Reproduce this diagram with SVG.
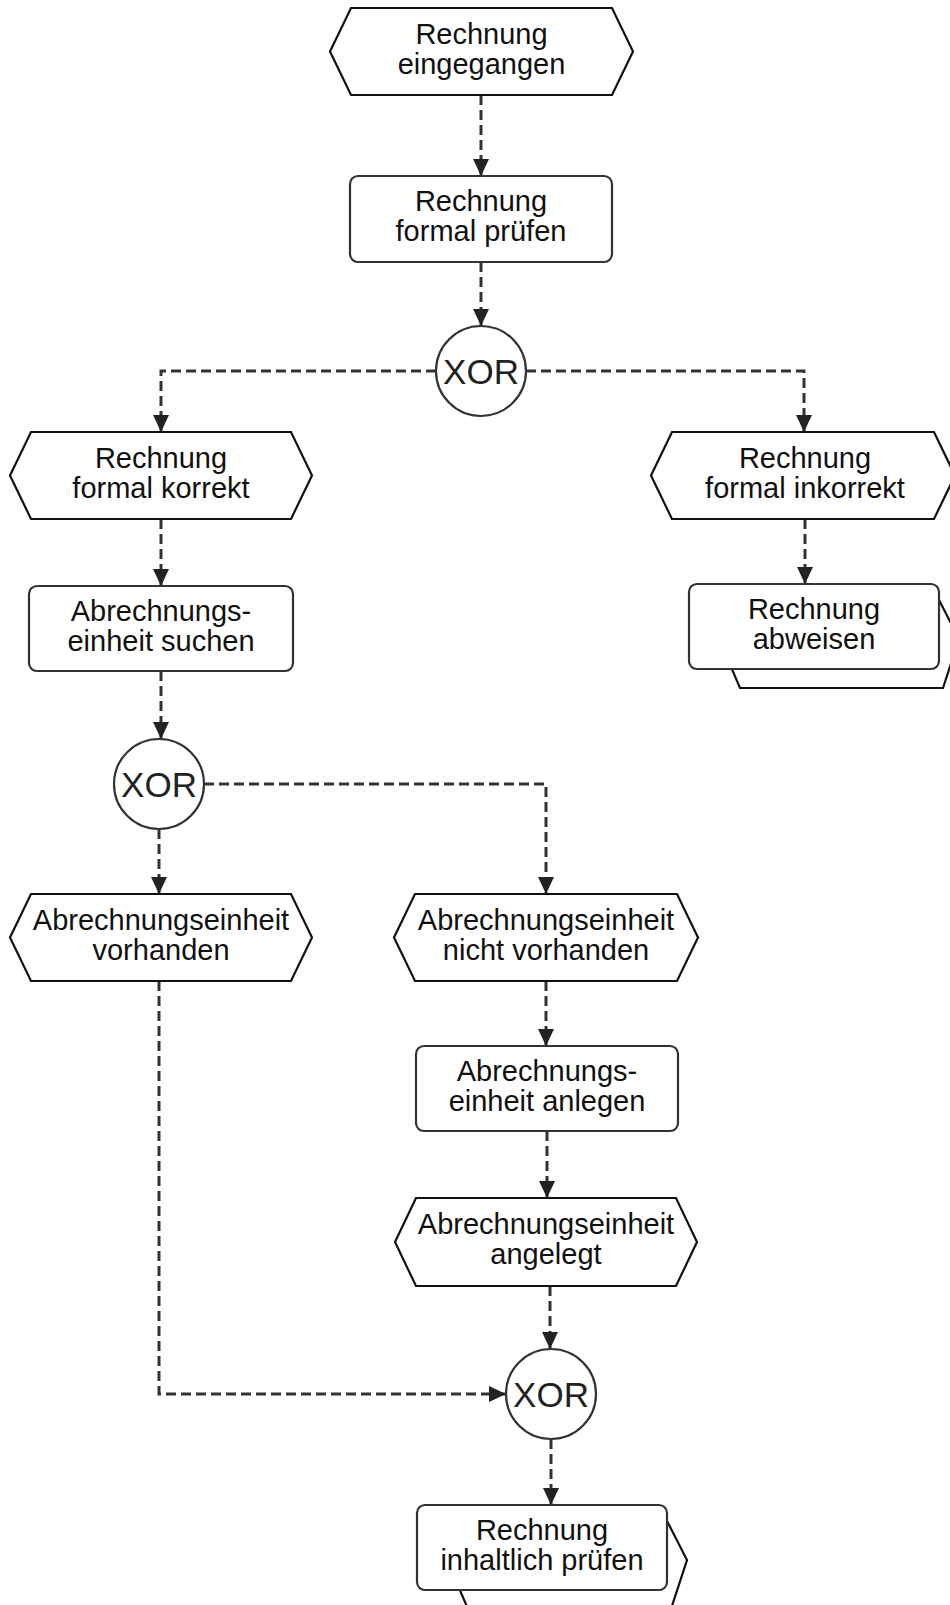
<svg xmlns="http://www.w3.org/2000/svg" width="950" height="1605" viewBox="0 0 950 1605">
<style>
.ev{fill:#fff;stroke:#111;stroke-width:2.2;stroke-linejoin:miter}
.fn{fill:#fff;stroke:#333;stroke-width:2.2}
.bk{fill:#fff;stroke:#111;stroke-width:2.2}
.gw{fill:#fff;stroke:#333;stroke-width:2.2}
.t{font-family:"Liberation Sans",Arial,sans-serif;font-size:29px;fill:#111;text-anchor:middle}
.x{font-family:"Liberation Sans",Arial,sans-serif;font-size:35px;fill:#222;text-anchor:middle}
.c{fill:none;stroke:#333;stroke-width:3;stroke-dasharray:10 5;marker-end:url(#ah)}
</style>
<defs>
<marker id="ah" markerUnits="userSpaceOnUse" markerWidth="18" markerHeight="18" refX="17" refY="8" orient="auto">
<path d="M0,0 L17,8 L0,16 Z" fill="#222"/>
</marker>
</defs>
<rect width="950" height="1605" fill="#fff"/>
<g id="connectors">
<path class="c" d="M481,95 V176"/>
<path class="c" d="M481,262 V326"/>
<path class="c" d="M436,371 H161 V432"/>
<path class="c" d="M526,371 H804 V432"/>
<path class="c" d="M161,519 V586"/>
<path class="c" d="M805,519 V584"/>
<path class="c" d="M161,671 V739"/>
<path class="c" d="M204,784 H546 V894"/>
<path class="c" d="M159,829 V894"/>
<path class="c" d="M546,981 V1046"/>
<path class="c" d="M547,1131 V1198"/>
<path class="c" d="M550,1286 V1349"/>
<path class="c" d="M159,981 V1394 H506"/>
<path class="c" d="M551,1439 V1505"/>
</g>
<g id="n1">
<polygon class="ev" points="330,51.5 351,8 612,8 633,51.5 612,95 351,95"/>
<text class="t" x="481.5" y="43.5">Rechnung</text>
<text class="t" x="481.5" y="73.5">eingegangen</text>
</g>
<g id="n2">
<rect class="fn" x="350" y="176" width="262" height="86" rx="8"/>
<text class="t" x="481" y="211">Rechnung</text>
<text class="t" x="481" y="241">formal prüfen</text>
</g>
<g id="n3">
<circle class="gw" cx="481" cy="371" r="45"/>
<text class="x" x="481" y="383.5">XOR</text>
</g>
<g id="n4">
<polygon class="ev" points="10,475.5 31,432 291,432 312,475.5 291,519 31,519"/>
<text class="t" x="161" y="467.5">Rechnung</text>
<text class="t" x="161" y="497.5">formal korrekt</text>
</g>
<g id="n5">
<polygon class="ev" points="651,475.5 672,432 934,432 955,475.5 934,519 672,519"/>
<text class="t" x="805" y="467.5">Rechnung</text>
<text class="t" x="805" y="497.5">formal inkorrekt</text>
</g>
<g id="n6">
<rect class="fn" x="29" y="586" width="264" height="85" rx="8"/>
<text class="t" x="161" y="620.5">Abrechnungs-</text>
<text class="t" x="161" y="650.5">einheit suchen</text>
</g>
<g id="n7">
<polygon class="bk" points="719,639 739,596 937,596 959,639 943,688 740,688"/>
<rect class="fn" x="689" y="584" width="250" height="85" rx="8"/>
<text class="t" x="814" y="618.5">Rechnung</text>
<text class="t" x="814" y="648.5">abweisen</text>
</g>
<g id="n8">
<circle class="gw" cx="159" cy="784" r="45"/>
<text class="x" x="159" y="796.5">XOR</text>
</g>
<g id="n9">
<polygon class="ev" points="10,937.5 31,894 291,894 312,937.5 291,981 31,981"/>
<text class="t" x="161" y="929.5">Abrechnungseinheit</text>
<text class="t" x="161" y="959.5">vorhanden</text>
</g>
<g id="n10">
<polygon class="ev" points="394,937.5 415,894 677,894 698,937.5 677,981 415,981"/>
<text class="t" x="546" y="929.5">Abrechnungseinheit</text>
<text class="t" x="546" y="959.5">nicht vorhanden</text>
</g>
<g id="n11">
<rect class="fn" x="416" y="1046" width="262" height="85" rx="8"/>
<text class="t" x="547" y="1080.5">Abrechnungs-</text>
<text class="t" x="547" y="1110.5">einheit anlegen</text>
</g>
<g id="n12">
<polygon class="ev" points="395,1242 416,1198 676,1198 697,1242 676,1286 416,1286"/>
<text class="t" x="546" y="1234">Abrechnungseinheit</text>
<text class="t" x="546" y="1264">angelegt</text>
</g>
<g id="n13">
<circle class="gw" cx="551" cy="1394" r="45"/>
<text class="x" x="551" y="1406.5">XOR</text>
</g>
<g id="n14">
<polygon class="bk" points="447,1560 467,1517 665,1517 687,1560 671,1609 468,1609"/>
<rect class="fn" x="417" y="1505" width="250" height="85" rx="8"/>
<text class="t" x="542" y="1539.5">Rechnung</text>
<text class="t" x="542" y="1569.5">inhaltlich prüfen</text>
</g>
</svg>
